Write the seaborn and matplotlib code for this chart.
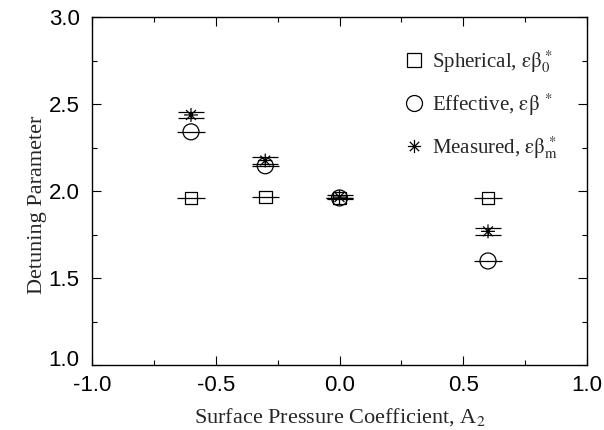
import matplotlib
matplotlib.use("Agg")
import matplotlib.pyplot as plt
import matplotlib.transforms as mtransforms
from matplotlib.path import Path
from matplotlib.lines import Line2D
from matplotlib.ticker import MultipleLocator
import seaborn as sns
import pandas as pd

# Surface pressure coefficient values
A2 = [-0.6, -0.3, 0.0, 0.6]
# Detuning parameter for each model
spherical = [1.96, 1.965, 1.96, 1.96]
effective = [2.34, 2.145, 1.96, 1.598]
measured = [2.437, 2.175, 1.965, 1.768]
measured_err = [0.015, 0.02, 0.012, 0.02]
# Uncertainty in A2 drawn as horizontal bars
a2_err = 0.055

x_ticks = [-1.0, -0.5, 0.0, 0.5, 1.0]
y_ticks = [1.0, 1.5, 2.0, 2.5, 3.0]

labels = [r"Spherical, $\mathrm{εβ}_0^{\,*}$",
          r"Effective, $\mathrm{εβ}^{\ *}$",
          r"Measured, $\mathrm{εβ}_\mathrm{m}^{\,*}$"]

sns.set_theme(style="ticks")
plt.rcParams.update({
    "font.family": ["Liberation Serif", "DejaVu Serif"],
    "mathtext.fontset": "stix",
    "axes.linewidth": 1.0,
    "axes.edgecolor": "black",
    "xtick.direction": "in",
    "ytick.direction": "in",
    "xtick.top": True,
    "ytick.right": True,
    "xtick.major.size": 6.5,
    "ytick.major.size": 6.5,
    "xtick.minor.size": 3.5,
    "ytick.minor.size": 3.5,
    "xtick.minor.visible": True,
    "ytick.minor.visible": True,
})

# eight-armed asterisk marker
star_path = Path(
    [(-1, 0), (1, 0), (0, -1), (0, 1),
     (-0.707, -0.707), (0.707, 0.707), (-0.707, 0.707), (0.707, -0.707)],
    [Path.MOVETO, Path.LINETO] * 4,
)

df = pd.DataFrame({"A2": A2, "spherical": spherical,
                   "effective": effective, "measured": measured})

fig, ax = plt.subplots(figsize=(6.04, 4.30), dpi=100)
fig.subplots_adjust(left=92 / 604, right=587 / 604, top=1 - 17 / 430, bottom=1 - 365 / 430)

lw = 0.9
ax.errorbar(A2, spherical, xerr=a2_err, fmt="none", ecolor="black", elinewidth=lw, capsize=0)
ax.errorbar(A2, effective, xerr=a2_err, fmt="none", ecolor="black", elinewidth=lw, capsize=0)
ax.errorbar(A2, measured, yerr=measured_err, fmt="none", ecolor="black",
            elinewidth=lw, capsize=9.7, capthick=lw)

sns.scatterplot(data=df, x="A2", y="spherical", marker="s", s=9 ** 2,
                facecolor="none", edgecolor="black", linewidth=lw, ax=ax, zorder=3)
sns.scatterplot(data=df, x="A2", y="effective", marker="o", s=11.5 ** 2,
                facecolor="none", edgecolor="black", linewidth=lw, ax=ax, zorder=3)
sns.scatterplot(data=df, x="A2", y="measured", marker=star_path, s=10 ** 2,
                facecolor="none", edgecolor="black", linewidth=lw, ax=ax, zorder=3)

ax.set_xlim(-1.0, 1.0)
ax.set_ylim(1.0, 3.0)
ax.set_xticks(x_ticks)
ax.set_yticks(y_ticks)
ax.xaxis.set_minor_locator(MultipleLocator(0.25))
ax.yaxis.set_minor_locator(MultipleLocator(0.25))
ax.set_xticklabels([f"{v:.1f}" for v in x_ticks])
ax.set_yticklabels([f"{v:.1f}" for v in y_ticks])
for lab in ax.get_xticklabels() + ax.get_yticklabels():
    lab.set_fontfamily("Liberation Sans")
    lab.set_fontsize(16)
ax.tick_params(axis="x", which="both", width=0.8, colors="black", pad=7)
ax.tick_params(axis="y", which="both", width=0.8, colors="black", pad=9)

# lift the lowest y tick label a little off the corner
bottom_label = ax.get_yticklabels()[0]
bottom_label.set_transform(bottom_label.get_transform()
                           + mtransforms.ScaledTranslation(0, 5 / 72, fig.dpi_scale_trans))

ax.set_xlabel(r"Surface Pressure Coefficient, A$_2$", fontsize=16, va="center")
ax.set_ylabel("Detuning Parameter", fontsize=16, va="center")
ax.xaxis.set_label_coords(0.5, (365 - 417) / 348)
ax.yaxis.set_label_coords((38 - 92) / 495, 0.46)

handles = [
    Line2D([], [], marker="s", markersize=9.5, markerfacecolor="none",
           markeredgecolor="black", markeredgewidth=lw, linestyle="none"),
    Line2D([], [], marker="o", markersize=11.5, markerfacecolor="none",
           markeredgecolor="black", markeredgewidth=lw, linestyle="none"),
    Line2D([], [], marker=star_path, markersize=9.5, markerfacecolor="none",
           markeredgecolor="black", markeredgewidth=lw, linestyle="none"),
]
ax.legend(handles, labels, loc="upper left",
          bbox_to_anchor=(401 / 604, 1 - 48 / 430), bbox_transform=fig.transFigure,
          frameon=False, fontsize=15, labelspacing=0.8, handletextpad=0.3,
          handlelength=1.2, borderpad=0, borderaxespad=0)

fig.savefig("out.png", dpi=100)
